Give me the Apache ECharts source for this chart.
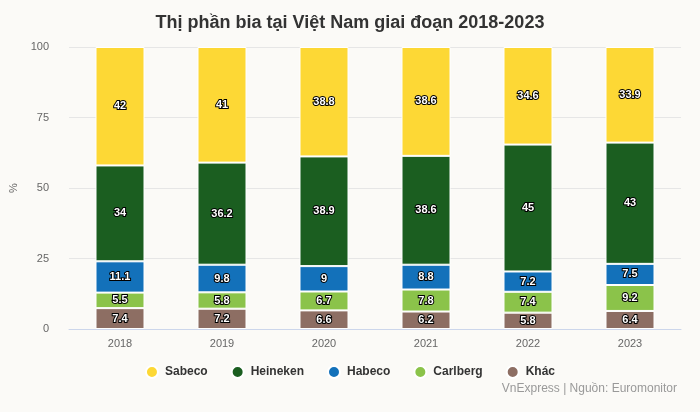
<!DOCTYPE html>
<html><head><meta charset="utf-8">
<script src="https://cdn.jsdelivr.net/npm/echarts@6/dist/echarts.min.js"></script>
<style>html,body{margin:0;padding:0;background:#fbfaf7;}#c{width:700px;height:412px;}</style>
</head><body><div id="c"></div>
<script>
const categories = ['2018','2019','2020','2021','2022','2023'];
const sabeco   = [42, 41, 38.8, 38.6, 34.6, 33.9];
const heineken = [34, 36.2, 38.9, 38.6, 45, 43];
const habeco   = [11.1, 9.8, 9, 8.8, 7.2, 7.5];
const carlberg = [5.5, 5.8, 6.7, 7.8, 7.4, 9.2];
const khac     = [7.4, 7.2, 6.6, 6.2, 5.8, 6.4];
const yTicks = [0, 25, 50, 75, 100];

const F = 'Liberation Sans, Arial, sans-serif';
function s(name, data, color) {
  return {
    name, type: 'bar', stack: 'a', data, barWidth: 49,
    itemStyle: { color, borderColor: '#ffffff', borderWidth: 1 },
    label: { show: true, position: 'inside', color: '#fff', fontFamily: F, fontWeight: 'bold', fontSize: 11,
      textBorderColor: '#000', textBorderWidth: 2 }
  };
}
const chart = echarts.init(document.getElementById('c'));
chart.setOption({
  backgroundColor: '#fbfaf7',
  animation: false,
  title: { text: 'Thị phần bia tại Việt Nam giai đoạn 2018-2023', left: 'center', top: 9,
    textStyle: { fontFamily: F, fontSize: 18, fontWeight: 'bold', color: '#333' } },
  grid: { left: 69, right: 19, top: 47, bottom: 83 },
  legend: { bottom: 28, left: 'center', icon: 'circle', itemWidth: 12, itemHeight: 12, itemGap: 23,
    data: ['Sabeco','Heineken','Habeco','Carlberg','Khác'],
    textStyle: { fontFamily: F, fontSize: 12, fontWeight: 'bold', color: '#333', padding: [0,0,0,2] } },
  graphic: [{ type: 'text', right: 23, top: 383,
    style: { text: 'VnExpress | Nguồn: Euromonitor', fontFamily: F, fontSize: 12, fill: '#999' } }],
  xAxis: { type: 'category', data: categories,
    axisLine: { lineStyle: { color: '#ccd6eb' } },
    axisTick: { alignWithLabel: true, length: 6, lineStyle: { color: '#ccd6eb' } },
    axisLabel: { color: '#666', fontFamily: F, fontSize: 11, margin: 9 } },
  yAxis: { type: 'value', min: yTicks[0], max: yTicks[yTicks.length-1], interval: 25,
    name: '%', nameLocation: 'middle', nameGap: 47, nameRotate: 90,
    nameTextStyle: { color: '#666', fontFamily: F, fontSize: 11 },
    axisLabel: { color: '#666', fontFamily: F, fontSize: 11, margin: 20 },
    splitLine: { lineStyle: { color: '#e6e6e6' } } },
  series: [
    s('Khác', khac, '#8d6e63'),
    s('Carlberg', carlberg, '#8bc34a'),
    s('Habeco', habeco, '#1371ba'),
    s('Heineken', heineken, '#1b5e20'),
    s('Sabeco', sabeco, '#fdd835')
  ]
});
</script></body></html>
